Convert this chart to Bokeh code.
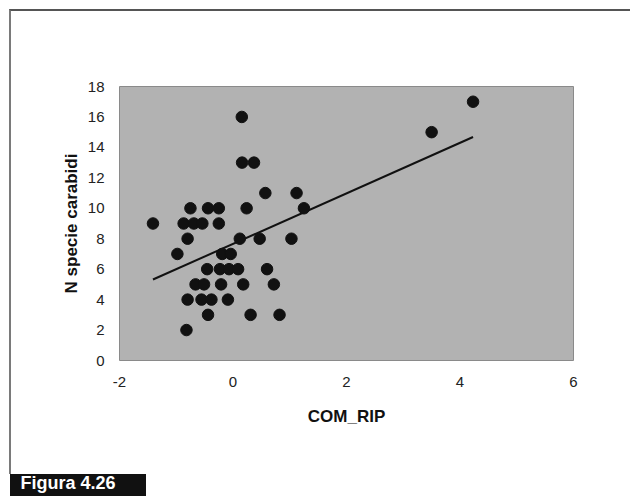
import numpy as np
from bokeh.plotting import figure
from bokeh.models import FixedTicker, Title, InlineStyleSheet
from bokeh.embed import file_html
from bokeh.resources import INLINE

# Data
com_rip = [-1.41, -0.98, -0.82, -0.80, -0.80, -0.87, -0.69, -0.54, -0.25,
           -0.75, -0.44, -0.25, 0.24, 1.25, 0.155, 0.16, 0.37, 0.57, 1.12,
           0.12, 0.47, 1.03, -0.19, -0.04, -0.455, -0.23, -0.07, 0.09, 0.60,
           -0.66, -0.51, -0.21, 0.18, 0.72, -0.555, -0.38, -0.09, -0.44,
           0.31, 0.82, 3.50, 4.23]
n_specie = [9, 7, 2, 8, 4, 9, 9, 9, 9,
            10, 10, 10, 10, 10, 16, 13, 13, 11, 11,
            8, 8, 8, 7, 7, 6, 6, 6, 6, 6,
            5, 5, 5, 5, 5, 4, 4, 4, 3,
            3, 3, 15, 17]
# linear trend line as drawn in the reference
trend_intercept = 7.66
trend_slope = 1.66
x_ticks = [-2, 0, 2, 4, 6]
y_ticks = [0, 2, 4, 6, 8, 10, 12, 14, 16, 18]
x_title = "COM_RIP"
y_title = "N specie carabidi"
caption = "Figura 4.26"

FONT = "Liberation Sans"

css = """
:host::before { content: ""; position: absolute; left: 10px; top: 474px;
  width: 136px; height: 22px; background: #111111; z-index: -1; pointer-events: none; }
:host::after { content: ""; position: absolute; left: 9px; top: 9px;
  width: 621px; height: 465px; box-sizing: border-box;
  border-top: 2px solid #555555; border-left: 2px solid #7a7a7a;
  z-index: 5; pointer-events: none; }
"""

p = figure(width=630, height=496, x_range=(-2, 6), y_range=(0, 18),
           output_backend="svg", toolbar_location=None,
           min_border_left=119, min_border_right=57,
           min_border_top=86, min_border_bottom=136)
p.stylesheets = [InlineStyleSheet(css=css)]
p.background_fill_color = "#b2b2b2"
p.border_fill_color = None
p.outline_line_color = "#8a8a8a"
p.outline_line_width = 1
p.xgrid.visible = False
p.ygrid.visible = False

for ax, ticks in ((p.xaxis, x_ticks), (p.yaxis, y_ticks)):
    ax.ticker = FixedTicker(ticks=ticks)
    ax.axis_line_color = None
    ax.major_tick_line_color = None
    ax.minor_tick_line_color = None
    ax.major_tick_out = 0
    ax.major_tick_in = 0
    ax.major_label_text_font = FONT
    ax.major_label_text_font_size = "15px"
    ax.major_label_text_color = "#222222"
    ax.axis_label_text_font = FONT
    ax.axis_label_text_font_size = "17px"
    ax.axis_label_text_font_style = "bold"
    ax.axis_label_text_color = "#111111"

p.xaxis.major_label_overrides = {t: str(t) for t in x_ticks}
p.xaxis.axis_label = x_title
p.yaxis.axis_label = y_title
p.xaxis.major_label_standoff = 16
p.xaxis.axis_label_standoff = 17
p.yaxis.major_label_standoff = 15
p.yaxis.axis_label_standoff = 4

xs = np.array(com_rip)
ys = np.array(n_specie)
lx = np.array([xs.min(), xs.max()])
p.line(lx, trend_intercept + trend_slope * lx, line_color="#111111", line_width=2)
p.scatter(xs, ys, size=11.5, fill_color="#111111", line_color="#111111")

# caption placed in the bottom panel, pushed down by two empty lines
p.add_layout(Title(text="\n\n" + caption, align="left", offset=-99, standoff=4,
                   vertical_align="bottom", text_line_height=1.0,
                   text_font=FONT, text_font_size="18px",
                   text_font_style="bold", text_color="white"), "below")

open("out.html", "w").write(file_html(p, INLINE))
